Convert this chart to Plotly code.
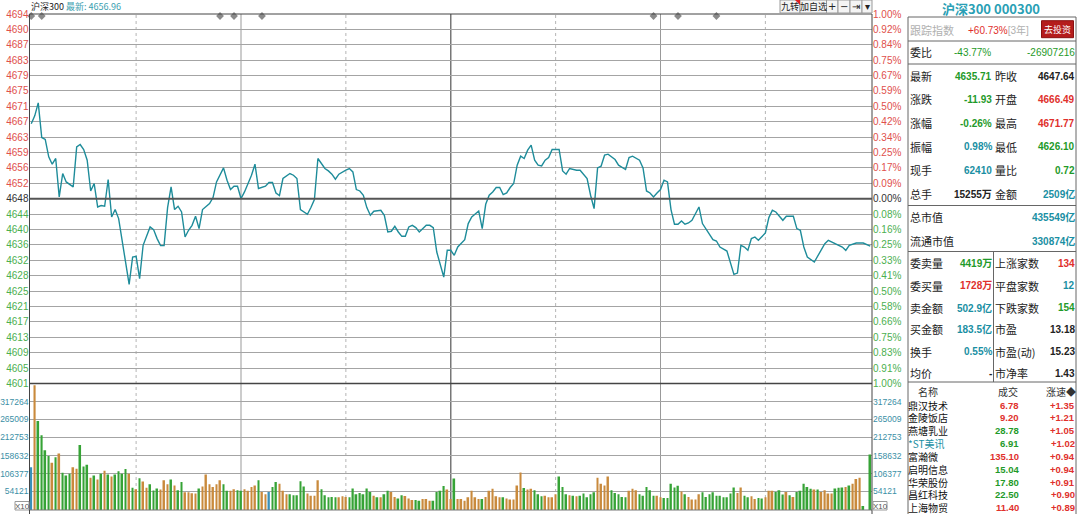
import plotly.graph_objects as go

W, H = 1080, 514

# ---------------- data ----------------
PREV_CLOSE = 4647.64

# intraday index line: minute after 09:30 (0..240) and price at the turning points
price_minute = [0, 1, 2, 3, 4, 5, 6, 7, 8, 9, 10, 12, 13, 14, 15, 16, 17, 18, 19, 20,
                21, 22, 23, 24, 25, 26, 27, 28, 29, 30, 31, 32, 34, 35, 36, 37, 38, 39, 40, 41,
                42, 43, 44, 45, 46, 47, 48, 49, 51, 52, 53, 55, 56, 57, 58, 59, 60, 61, 63, 64,
                65, 67, 68, 69, 70, 71, 72, 73, 74, 75, 76, 77, 79, 80, 81, 82, 84, 85, 86, 87,
                88, 90, 91, 92, 93, 94, 95, 96, 97, 98, 100, 101, 102, 103, 104, 105, 106, 107, 108, 109,
                110, 111, 112, 113, 114, 115, 116, 117, 118, 119, 120, 121, 122, 124, 125, 126, 128, 129, 130, 131,
                132, 133, 134, 135, 136, 137, 138, 139, 140, 141, 142, 143, 144, 145, 146, 147, 148, 149, 151, 152,
                153, 154, 156, 157, 158, 159, 160, 161, 162, 163, 164, 165, 167, 168, 170, 171, 172, 174, 175, 176,
                177, 178, 179, 180, 181, 182, 183, 184, 185, 186, 187, 188, 189, 191, 192, 193, 195, 196, 197, 199,
                200, 201, 202, 203, 204, 205, 206, 207, 208, 210, 211, 212, 213, 215, 216, 218, 219, 220, 221, 222,
                224, 227, 228, 231, 232, 233, 234, 236, 238, 240]
price_value = [4666.49, 4668.5, 4671.77, 4663.06, 4662.55, 4658.17, 4656.33, 4657.77, 4648.09, 4653.99,
               4651.87, 4650.61, 4660.69, 4661.29, 4660.03, 4657.34, 4649.60, 4651.47, 4645.57, 4645.93,
               4645.75, 4652.48, 4643.06, 4644.92, 4642.65, 4637.19, 4631.32, 4626.10, 4632.98, 4633.15,
               4627.54, 4635.93, 4640.54, 4639.88, 4637.61, 4635.85, 4635.85, 4645.42, 4650.61, 4644.92,
               4645.75, 4644.31, 4638.02, 4639.71, 4640.96, 4643.23, 4640.13, 4644.92, 4646.43, 4647.94,
               4651.87, 4655.40, 4652.30, 4649.96, 4650.79, 4650.79, 4647.69, 4649.35, 4653.56, 4656.33,
               4650.21, 4650.79, 4651.72, 4651.72, 4649.10, 4648.45, 4652.73, 4653.31, 4653.99, 4653.56,
               4652.73, 4644.92, 4643.74, 4645.42, 4647.44, 4657.77, 4655.25, 4654.64, 4653.81, 4652.55,
               4653.81, 4654.82, 4655.25, 4654.39, 4649.96, 4649.60, 4648.52, 4645.42, 4643.48, 4644.49,
               4644.74, 4643.48, 4639.28, 4639.46, 4640.71, 4639.28, 4638.19, 4638.19, 4640.54, 4640.96,
               4640.39, 4639.28, 4640.13, 4640.96, 4640.96, 4640.39, 4634.24, 4631.32, 4627.94, 4634.67,
               4634.67, 4633.41, 4635.50, 4637.36, 4641.39, 4643.06, 4644.57, 4640.13, 4646.25, 4648.52,
               4649.35, 4650.46, 4650.46, 4648.70, 4649.10, 4650.46, 4651.47, 4656.08, 4658.35, 4657.77,
               4659.86, 4661.12, 4657.34, 4656.08, 4655.90, 4657.34, 4658.02, 4660.03, 4660.03, 4654.64,
               4653.81, 4655.25, 4654.82, 4654.82, 4653.81, 4652.73, 4648.52, 4645.17, 4655.40, 4655.83,
               4658.60, 4658.85, 4657.51, 4656.08, 4655.00, 4658.02, 4658.35, 4657.34, 4655.40, 4649.60,
               4649.10, 4648.09, 4649.10, 4649.96, 4652.30, 4651.87, 4644.92, 4641.22, 4641.22, 4642.05,
               4641.22, 4641.54, 4642.22, 4645.57, 4641.39, 4640.13, 4637.36, 4637.01, 4635.50, 4634.49,
               4631.47, 4628.62, 4628.95, 4635.93, 4635.50, 4634.67, 4637.61, 4638.02, 4637.19, 4639.03,
               4642.90, 4644.74, 4644.31, 4642.22, 4643.23, 4643.23, 4640.13, 4639.71, 4635.50, 4632.98,
               4631.72, 4636.35, 4637.19, 4635.93, 4635.50, 4634.67, 4635.93, 4636.51, 4636.51, 4635.71]

# minute volume (thousands), one bar per minute 0..240
volume_k = [125, 365, 260, 219, 175, 158, 138, 154, 165, 109,
            101, 106, 125, 121, 190, 127, 132, 94, 101, 89,
            106, 115, 104, 98, 104, 113, 106, 120, 106, 65,
            61, 93, 83, 65, 75, 57, 63, 60, 87, 75,
            89, 72, 58, 82, 52, 52, 49, 48, 63, 69,
            104, 75, 67, 75, 87, 75, 56, 56, 61, 58,
            56, 61, 56, 67, 72, 87, 53, 46, 53, 67,
            82, 77, 56, 46, 46, 43, 43, 84, 69, 48,
            42, 42, 87, 61, 43, 37, 38, 37, 37, 40,
            38, 37, 63, 46, 50, 46, 63, 53, 42, 37,
            37, 46, 56, 53, 38, 34, 43, 41, 34, 29,
            29, 27, 32, 32, 27, 27, 53, 56, 70, 60,
            32, 92, 32, 32, 27, 37, 56, 37, 32, 32,
            38, 56, 62, 40, 37, 37, 34, 31, 31, 72,
            110, 64, 60, 62, 58, 46, 40, 42, 37, 37,
            46, 98, 67, 46, 43, 42, 40, 42, 48, 37,
            46, 52, 94, 77, 72, 98, 58, 50, 46, 38,
            37, 56, 62, 58, 46, 42, 67, 58, 42, 42,
            37, 35, 35, 77, 66, 71, 54, 46, 38, 31,
            31, 46, 52, 38, 46, 52, 42, 42, 37, 37,
            48, 66, 50, 66, 42, 37, 40, 32, 35, 34,
            37, 56, 56, 53, 58, 45, 53, 43, 38, 53,
            56, 77, 67, 62, 60, 60, 53, 58, 48, 48,
            63, 65, 66, 67, 72, 77, 91, 94, 12, 0,
            162]
# u = up minute, d = down minute, n = unchanged
volume_dir = "".join([
    "nuddddudud", "dduudddudu", "dududdddud", "uduuddduuu", "dudduuuudu",
    "uuuuudduud", "duuuuduund", "duuudddddu", "uuuddddduu", "udddddddud",
    "udduudduuu", "dduuuddddu", "uduuuuuuud", "uuuuuduuuu", "uduuddduuu",
    "udddududdd", "dduuuudddd", "duuudddddu", "uddddduduu", "uudddddddd",
    "dduudduudd", "uuudddudud", "dddduduuuu", "ddduduuudd", "d"])

price_labels = ["4694", "4690", "4687", "4683", "4679", "4675", "4671", "4667", "4663",
                "4659", "4656", "4652", "4648", "4644", "4640", "4636", "4632", "4628",
                "4625", "4621", "4617", "4613", "4609", "4605", "4601"]
pct_labels = ["1.00%", "0.92%", "0.84%", "0.75%", "0.67%", "0.59%", "0.50%", "0.42%", "0.34%",
              "0.25%", "0.17%", "0.09%", "0.00%", "0.08%", "0.16%", "0.25%", "0.33%", "0.41%",
              "0.50%", "0.58%", "0.66%", "0.75%", "0.83%", "0.91%", "1.00%"]
vol_labels = [54121, 106377, 158632, 212753, 265009, 317264]

event_minute = [0, 3, 54, 58, 66, 178, 185, 196]

header_name = "沪深300"
header_last = "最新: 4656.96"
panel_title = "沪深300 000300"

# (label, value, tone, label, value, tone)
quote_rows = [
    ("最新", "4635.71", "down", "昨收", "4647.64", "flat"),
    ("涨跌", "-11.93", "down", "开盘", "4666.49", "up"),
    ("涨幅", "-0.26%", "down", "最高", "4671.77", "up"),
    ("振幅", "0.98%", "info", "最低", "4626.10", "down"),
    ("现手", "62410", "info", "量比", "0.72", "down"),
    ("总手", "15255万", "flat", "金额", "2509亿", "info"),
]
cap_rows = [("总市值", "435549亿"), ("流通市值", "330874亿")]
order_rows = [
    ("委卖量", "4419万", "down", "上涨家数", "134", "up"),
    ("委买量", "1728万", "up", "平盘家数", "12", "info"),
    ("卖金额", "502.9亿", "info", "下跌家数", "154", "down"),
    ("买金额", "183.5亿", "info", "市盈", "13.18", "flat"),
    ("换手", "0.55%", "info", "市盈(动)", "15.23", "flat"),
    ("均价", "-", "flat", "市净率", "1.43", "flat"),
]
# (name, last, change, name tone, last tone)
movers = [
    ("鼎汉技术", "6.78", "+1.35", "flat", "up"),
    ("金陵饭店", "9.20", "+1.21", "flat", "up"),
    ("燕塘乳业", "28.78", "+1.05", "flat", "down"),
    ("*ST美讯", "6.91", "+1.02", "info", "down"),
    ("富瀚微", "135.10", "+0.94", "flat", "up"),
    ("启明信息", "15.04", "+0.94", "flat", "down"),
    ("华荣股份", "17.80", "+0.91", "flat", "down"),
    ("昌红科技", "22.50", "+0.90", "flat", "down"),
    ("上海物贸", "11.40", "+0.89", "flat", "up"),
]

# ---------------- styling ----------------
TONE = {"up": "#e0302c", "down": "#1f9a2a", "flat": "#222222", "info": "#1a8fa3"}
AXIS_RED = "#e0504c"
AXIS_GREEN = "#4caf50"
VOL_TEAL = "#3b8fa6"
BAR_UP = "#c98a3c"
BAR_DOWN = "#36a336"
BAR_FLAT = "#3a8fb8"
GRID = "#a4a4a4"
CJK = "Noto Sans CJK SC"
NUM = "Liberation Sans"


def px(x):
    return x / W


def py(y):
    return 1 - y / H


def label(fig, x, y, s, color, size=11, anchor="left", family=CJK):
    fig.add_annotation(x=px(x), y=py(y), xref="paper", yref="paper", text=s,
                       showarrow=False, xanchor=anchor, yanchor="middle", borderpad=0,
                       font=dict(size=size, color=color, family=family))


def hline(fig, x0, x1, y, color="#555", width=1, dash="solid"):
    fig.add_shape(type="line", xref="paper", yref="paper", x0=px(x0), x1=px(x1),
                  y0=py(y), y1=py(y), line=dict(color=color, width=width, dash=dash))


def vline(fig, x, y0, y1, color="#555", width=1, dash="solid"):
    fig.add_shape(type="line", xref="paper", yref="paper", x0=px(x), x1=px(x),
                  y0=py(y0), y1=py(y1), line=dict(color=color, width=width, dash=dash))


def colored(text, color):
    return f"<span style='color:{color}'>{text}</span>"


lo, hi = PREV_CLOSE * 0.99, PREV_CLOSE * 1.01
step = (hi - lo) / 24
price_ticks = [hi - i * step for i in range(25)]
left_text, right_text = [], []
for i in range(25):
    c = AXIS_RED if i < 12 else ("#333333" if i == 12 else AXIS_GREEN)
    left_text.append(colored(price_labels[i], c))
    right_text.append(colored(pct_labels[i], c))

bar_colors = [{"u": BAR_UP, "d": BAR_DOWN, "n": BAR_FLAT}[d] for d in volume_dir]

fig = go.Figure()
fig.add_trace(go.Bar(x=list(range(len(volume_k))), y=volume_k, marker_color=bar_colors,
                     marker_line_width=0, width=0.5, xaxis="x2", yaxis="y2", hoverinfo="skip"))
fig.add_trace(go.Scatter(x=[None], y=[None], xaxis="x2", yaxis="y4", hoverinfo="skip"))
fig.add_trace(go.Scatter(x=price_minute, y=price_value, mode="lines",
                         line=dict(color="#1e8c9a", width=1.4), xaxis="x", yaxis="y"))
fig.add_trace(go.Scatter(x=event_minute, y=[hi - 0.5] * len(event_minute), mode="markers",
                         marker=dict(symbol="diamond", size=6, color="#8a8a8a"),
                         cliponaxis=False, xaxis="x", yaxis="y3"))

x_dom = [px(29.5), px(872)]
common_x = dict(domain=x_dom, range=[-0.5, 240.5], showticklabels=False, showgrid=False,
                zeroline=False, showline=False, fixedrange=True)
fig.update_layout(
    width=W, height=H, margin=dict(l=0, r=0, t=0, b=0),
    paper_bgcolor="white", plot_bgcolor="white", showlegend=False,
    xaxis=dict(anchor="y", **common_x),
    xaxis2=dict(anchor="y2", **common_x),
    yaxis=dict(domain=[py(383.5), py(14)], range=[lo, hi], anchor="x",
               tickvals=price_ticks, ticktext=left_text, ticks="",
               tickfont=dict(size=10, family=NUM), showgrid=True, gridcolor=GRID,
               gridwidth=1, zeroline=False, automargin=False),
    yaxis3=dict(overlaying="y", side="right", range=[lo, hi], anchor="x",
                tickvals=price_ticks, ticktext=right_text, ticks="",
                tickfont=dict(size=10, family=NUM), showgrid=False, zeroline=False,
                automargin=False),
    yaxis2=dict(domain=[py(510), py(383.5)], range=[0, 370], anchor="x2",
                tickvals=[v / 1000 for v in vol_labels], ticktext=[str(v) for v in vol_labels],
                ticks="", tickfont=dict(size=8.5, family=NUM, color=VOL_TEAL),
                showgrid=True, gridcolor=GRID, gridwidth=1, zeroline=False, automargin=False),
    yaxis4=dict(overlaying="y2", side="right", range=[0, 370], anchor="x2",
                tickvals=[v / 1000 for v in vol_labels], ticktext=[str(v) for v in vol_labels],
                ticks="", tickfont=dict(size=8.5, family=NUM, color=VOL_TEAL),
                showgrid=False, zeroline=False, automargin=False),
)

# chart frame, zero line and time grid
hline(fig, 29.5, 872, 14, "#444")
hline(fig, 29.5, 872, 383.5, "#444", 1.5)
hline(fig, 29.5, 872, 510, "#777")
vline(fig, 29.5, 14, 514, "#444")
vline(fig, 872, 14, 514, "#444")
fig.add_shape(type="line", xref="paper", yref="y", x0=x_dom[0], x1=x_dom[1],
              y0=PREV_CLOSE, y1=PREV_CLOSE, line=dict(color="#555", width=2))
for m, style in [(30, "dot"), (60, "solid"), (90, "dot"), (120, "solid"),
                 (150, "dot"), (180, "solid"), (210, "dot")]:
    col = "#777" if m == 120 else ("#999" if style == "solid" else "#b5b5b5")
    w = 1.5 if m == 120 else 1
    fig.add_shape(type="line", xref="x", yref="paper", x0=m, x1=m, y0=py(510), y1=py(14),
                  line=dict(color=col, width=w, dash=style), layer="below")

# header line above the chart
label(fig, 30, 6.5, header_name + " " + colored(header_last, "#3aa0b0"), "#222", size=9)

# toolbar buttons
for x0, x1, t in [(780, 800, "九转"), (800, 826.5, "加自选"), (826.5, 838, "+"),
                  (838, 850, "−"), (850, 862, "⇥"), (862, 872, "▾")]:
    fig.add_shape(type="rect", xref="paper", yref="paper", x0=px(x0), x1=px(x1),
                  y0=py(13), y1=py(0), line=dict(color="#9a9a9a", width=1), fillcolor="#f4f4f4")
    label(fig, (x0 + x1) / 2, 6.5, t, "#222", size=9 if len(t) > 1 else 10, anchor="center",
          family=CJK if len(t) > 1 else "DejaVu Sans")
fig.add_shape(type="path", xref="paper", yref="paper",
              path=f"M {px(795)} {py(0)} L {px(800)} {py(0)} L {px(800)} {py(5)} Z",
              fillcolor="#e02020", line=dict(width=0))

# X10 unit boxes
for x0 in (15, 873):
    fig.add_shape(type="rect", xref="paper", yref="paper", x0=px(x0), x1=px(x0 + 14),
                  y0=py(510), y1=py(501.5), line=dict(color="#999", width=1))
    label(fig, x0 + 7, 506, "X10", "#555", size=8, anchor="center", family=NUM)

# ---------------- right quote panel ----------------
label(fig, 991, 8.5, "<b>" + panel_title + "</b>", "#2a9fb5", size=13, anchor="center")

vline(fig, 908, 17, 514, "#666")
vline(fig, 1076, 17, 514, "#666")
hline(fig, 908, 1076, 17, "#666")
for y in (41, 64, 205.5, 251.5, 382):
    hline(fig, 908, 1076, y, "#666")
vline(fig, 993.5, 251.5, 382, "#666")

label(fig, 909, 29.5, "跟踪指数", "#b0b0b0", size=11)
label(fig, 967, 29.5, colored("+60.73%", "#e0302c") + colored("[3年]", "#b0b0b0"), "#b0b0b0",
      size=10, family=NUM + ", " + CJK)
fig.add_shape(type="rect", xref="paper", yref="paper", x0=px(1041.5), x1=px(1073.5),
              y0=py(37.7), y1=py(20.7), fillcolor="#b41c1c", line=dict(color="#8a1010", width=1))
label(fig, 1057.5, 29.3, "去投资", "white", size=9, anchor="center")

label(fig, 909, 52.3, "委比", "#222", size=11)
label(fig, 992, 52.3, "-43.77%", TONE["down"], size=10, anchor="right", family=NUM)
label(fig, 1075.5, 52.3, "-26907216", TONE["down"], size=10, anchor="right", family=NUM)


def grid_rows(rows, y_list):
    for (l1, v1, t1, l2, v2, t2), y in zip(rows, y_list):
        label(fig, 909, y, l1, "#222", size=11)
        label(fig, 992.5, y, "<b>" + v1 + "</b>", TONE[t1], size=10, anchor="right",
              family=NUM + ", " + CJK)
        label(fig, 993.5, y, l2, "#222", size=11)
        label(fig, 1075.5, y, "<b>" + v2 + "</b>", TONE[t2], size=10, anchor="right",
              family=NUM + ", " + CJK)


grid_rows(quote_rows, [76, 99.5, 123, 146.7, 170.5, 194])
for (l1, v1), y in zip(cap_rows, [217.3, 240.7]):
    label(fig, 909, y, l1, "#222", size=11)
    label(fig, 1075.5, y, "<b>" + v1 + "</b>", TONE["info"], size=10, anchor="right",
          family=NUM + ", " + CJK)
grid_rows(order_rows, [263.3, 285.7, 307.7, 329.3, 351.7, 373.3])

# movers list
label(fig, 928, 391.5, "名称", "#333", size=10, anchor="center")
label(fig, 1008, 391.5, "成交", "#333", size=10, anchor="center")
label(fig, 1061, 391.5, "涨速◆", "#333", size=10, anchor="center")
for (name, last, chg, nt, lt), y in zip(movers, [405, 417.8, 430.6, 443.4, 456.2, 469.1,
                                                 482, 494.9, 507.6]):
    label(fig, 906.5, y, name, TONE[nt] if nt != "flat" else "#111", size=10)
    label(fig, 1020, y, "<b>" + last + "</b>", TONE[lt], size=9.5, anchor="right", family=NUM)
    label(fig, 1075.5, y, "<b>" + chg + "</b>", TONE["up"], size=9.5, anchor="right", family=NUM)

# the page is photographed at exactly the figure size: no body margin, no mode bar
fig.write_html("out.html", config={"displayModeBar": False},
               post_script="document.body.style.margin='0';"
                           "document.body.style.overflow='hidden';")
